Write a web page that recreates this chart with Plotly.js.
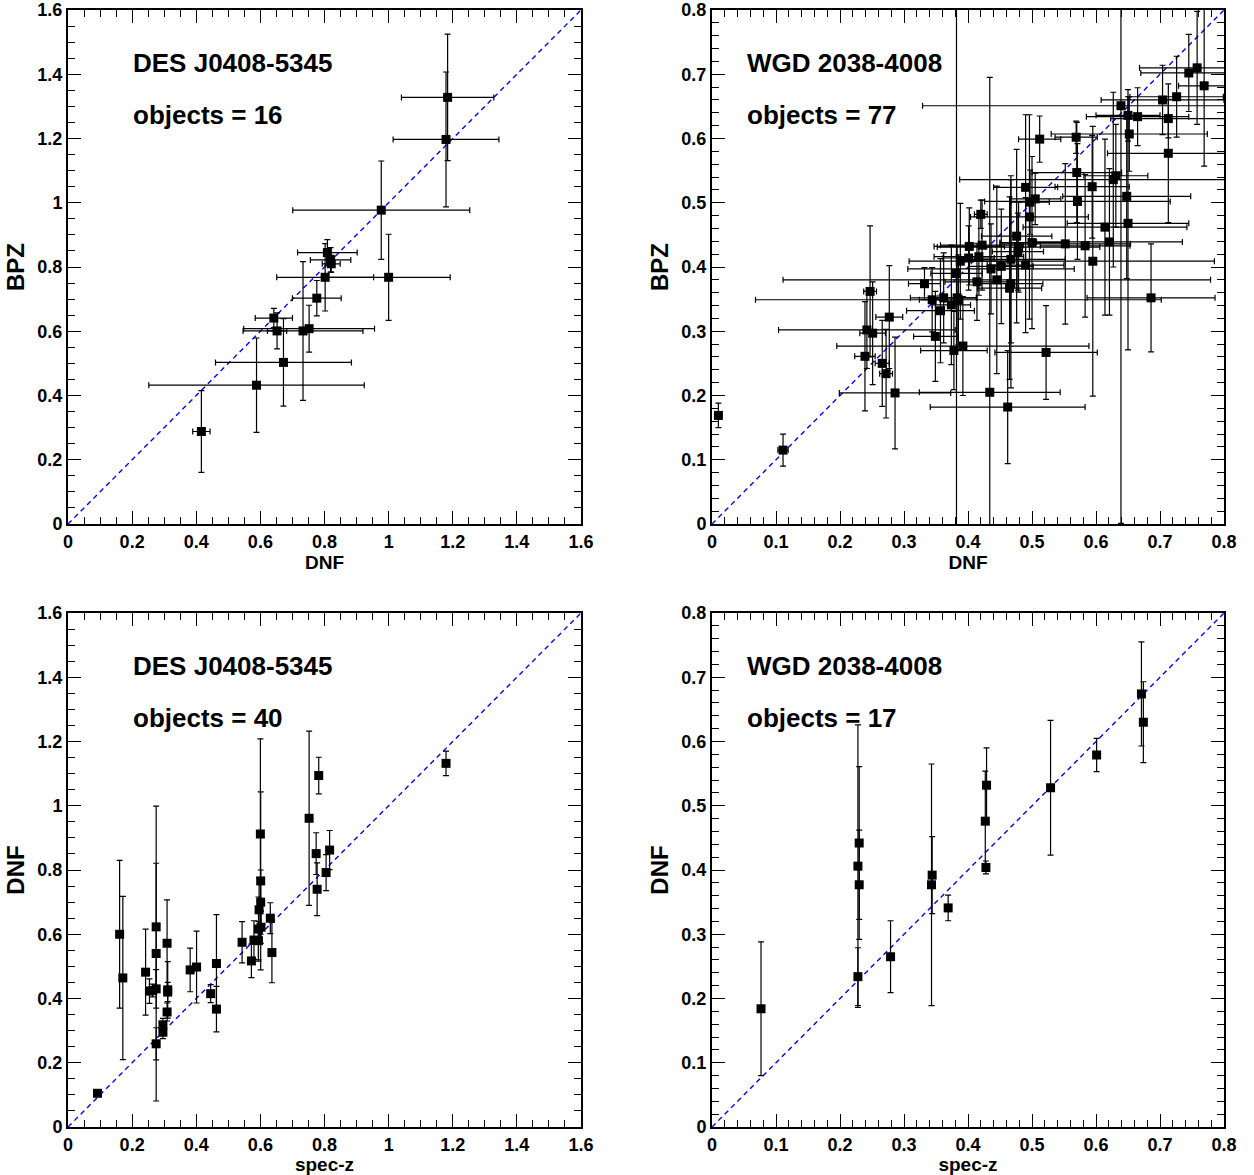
<!DOCTYPE html>
<html>
<head>
<meta charset="utf-8">
<script src="https://cdn.plot.ly/plotly-3.0.1.min.js"></script>
<style>html,body{margin:0;padding:0;background:#fff;}#plot{width:1254px;height:1175px;}</style>
</head>
<body>
<div id="plot"></div>
<script>
// ---------- Panel 1: DES J0408-5345, BPZ vs DNF ----------
const p1_x    = [1.184,1.179,0.977,1.000,0.809,0.819,0.821,0.802,0.776,0.642,0.652,0.733,0.752,0.672,0.588,0.416];
const p1_y    = [1.328,1.197,0.977,0.768,0.845,0.822,0.810,0.768,0.703,0.641,0.601,0.601,0.608,0.503,0.432,0.288];
const p1_xerr = [0.144,0.165,0.276,0.192,0.093,0.063,0.028,0.151,0.076,0.058,0.030,0.187,0.204,0.212,0.336,0.027];
const p1_yerr = [0.197,0.210,0.153,0.134,0.040,0.038,0.026,0.105,0.055,0.030,0.056,0.216,0.073,0.136,0.147,0.127];

// ---------- Panel 2: WGD 2038-4008, BPZ vs DNF ----------
const p2_x = [0.758,0.745,0.769,0.704,0.726,0.639,0.650,0.665,0.713,0.652,0.512,0.569,0.713,0.570,0.631,0.627,0.594,0.490,0.648,0.571,
              0.505,0.497,0.496,0.650,0.614,0.420,0.476,0.500,0.479,0.478,0.552,0.583,0.621,0.402,0.422,0.401,0.417,0.388,0.467,0.595,
              0.490,0.452,0.436,0.382,0.332,0.445,0.414,0.247,0.467,0.465,0.344,0.362,0.383,0.686,0.385,0.374,0.357,0.277,0.242,0.251,
              0.349,0.378,0.392,0.522,0.239,0.266,0.272,0.286,0.434,0.462,0.010,0.111];
const p2_y = [0.710,0.702,0.682,0.660,0.665,0.651,0.636,0.634,0.631,0.607,0.599,0.602,0.577,0.547,0.542,0.536,0.525,0.524,0.510,0.502,
              0.506,0.501,0.478,0.468,0.462,0.482,0.448,0.438,0.431,0.424,0.436,0.433,0.439,0.432,0.434,0.414,0.416,0.409,0.412,0.409,
              0.403,0.401,0.397,0.390,0.374,0.380,0.377,0.362,0.374,0.367,0.349,0.352,0.352,0.352,0.349,0.341,0.332,0.322,0.302,0.297,
              0.292,0.270,0.277,0.267,0.261,0.250,0.234,0.204,0.205,0.182,0.169,0.115];
const p2_xerr = [0.090,0.075,0.040,0.096,0.073,0.310,0.050,0.080,0.090,0.122,0.033,0.033,0.095,0.070,0.050,0.240,0.058,0.050,0.100,0.145,
                 0.040,0.030,0.092,0.095,0.128,0.010,0.055,0.050,0.127,0.040,0.102,0.070,0.114,0.055,0.065,0.040,0.070,0.080,0.085,0.190,
                 0.060,0.050,0.130,0.040,0.025,0.334,0.050,0.010,0.050,0.050,0.020,0.052,0.030,0.100,0.317,0.030,0.053,0.021,0.138,0.020,
                 0.034,0.052,0.197,0.080,0.016,0.011,0.010,0.087,0.110,0.121,0.005,0.008];
const p2_yerr = [0.088,0.060,0.125,0.054,0.063,0.650,0.040,0.045,0.030,0.058,0.036,0.025,0.108,0.078,0.080,0.136,0.080,0.113,0.128,0.090,
                 0.040,0.050,0.159,0.197,0.137,0.022,0.135,0.134,0.070,0.060,0.125,0.111,0.114,0.060,0.070,0.050,0.060,0.090,0.130,0.210,
                 0.105,0.089,0.070,0.500,0.025,0.146,0.060,0.102,0.162,0.142,0.050,0.070,0.080,0.084,0.070,0.093,0.081,0.080,0.060,0.080,
                 0.070,0.061,0.077,0.073,0.085,0.067,0.069,0.087,0.490,0.088,0.019,0.025];

// ---------- Panel 3: DES J0408-5345, DNF vs spec-z ----------
const p3_x = [0.092,0.161,0.171,0.242,0.254,0.264,0.275,0.275,0.275,0.275,0.296,0.296,0.309,0.311,0.311,0.309,0.381,0.401,0.445,0.463,
              0.463,0.543,0.572,0.580,0.594,0.596,0.600,0.601,0.601,0.602,0.594,0.631,0.636,0.752,0.782,0.774,0.777,0.805,0.816,1.179];
const p3_y = [0.105,0.600,0.464,0.482,0.423,0.425,0.623,0.540,0.430,0.259,0.318,0.295,0.572,0.427,0.420,0.358,0.489,0.498,0.415,0.509,
              0.367,0.575,0.517,0.582,0.580,0.676,0.912,0.766,0.700,0.622,0.616,0.650,0.543,0.961,1.094,0.851,0.740,0.792,0.862,1.132];
const p3_yerr = [0.010,0.230,0.254,0.134,0.038,0.020,0.198,0.459,0.060,0.050,0.020,0.020,0.135,0.088,0.030,0.028,0.068,0.112,0.028,0.152,
                 0.071,0.064,0.052,0.060,0.060,0.100,0.296,0.277,0.100,0.050,0.100,0.048,0.094,0.271,0.057,0.065,0.082,0.056,0.061,0.038];

// ---------- Panel 4: WGD 2038-4008, DNF vs spec-z ----------
const p4_x = [0.0766,0.228,0.228,0.230,0.230,0.279,0.343,0.344,0.369,0.427,0.429,0.428,0.529,0.601,0.671,0.674];
const p4_y = [0.184,0.234,0.406,0.442,0.377,0.265,0.377,0.392,0.341,0.476,0.532,0.404,0.528,0.579,0.674,0.630];
const p4_yerr = [0.104,0.045,0.220,0.119,0.085,0.056,0.188,0.060,0.020,0.078,0.058,0.010,0.105,0.026,0.081,0.063];

// ---------- Labels ----------
const panelNames = ["DES J0408-5345","WGD 2038-4008","DES J0408-5345","WGD 2038-4008"];
const panelCounts = ["objects = 16","objects = 77","objects = 40","objects = 17"];
const xTitles = ["DNF","DNF","spec-z","spec-z"];
const yTitles = ["BPZ","BPZ","DNF","DNF"];
const axisMax = [1.6, 0.8, 1.6, 0.8];

const FONT = "Liberation Sans, Arial, Helvetica, sans-serif";

function pts(xs, ys, xe, ye, xa, ya) {
  const t = {
    x: xs, y: ys, xaxis: xa, yaxis: ya, type: 'scatter', mode: 'markers',
    marker: {symbol: 'square', size: 9, color: 'black'},
    error_y: {type: 'data', array: ye, visible: true, color: 'black', thickness: 1.2, width: 3},
    showlegend: false, hoverinfo: 'x+y'
  };
  if (xe) t.error_x = {type: 'data', array: xe, visible: true, color: 'black', thickness: 1.2, width: 3};
  return t;
}
function diag(m, xa, ya) {
  return {x: [0, m], y: [0, m], xaxis: xa, yaxis: ya, type: 'scatter', mode: 'lines',
          line: {color: '#0000ff', width: 1.4, dash: '5px,4px'}, showlegend: false, hoverinfo: 'skip'};
}

const traces = [
  diag(axisMax[0], 'x', 'y'),   pts(p1_x, p1_y, p1_xerr, p1_yerr, 'x', 'y'),
  diag(axisMax[1], 'x2', 'y2'), pts(p2_x, p2_y, p2_xerr, p2_yerr, 'x2', 'y2'),
  diag(axisMax[2], 'x3', 'y3'), pts(p3_x, p3_y, null, p3_yerr, 'x3', 'y3'),
  diag(axisMax[3], 'x4', 'y4'), pts(p4_x, p4_y, null, p4_yerr, 'x4', 'y4')
];

const W = 1254, H = 1175;
const colPx = [[68, 581], [712, 1224]];
const rowPx = [[10, 524], [613, 1127]];

function axis(i, isX, dom) {
  const m = axisMax[i];
  const big = m > 1;
  return {
    domain: dom, range: [0, m], autorange: false, fixedrange: true,
    tick0: 0, dtick: big ? 0.2 : 0.1,
    ticks: 'inside', ticklen: 13, tickwidth: 1, tickcolor: 'black',
    minor: {dtick: big ? 0.05 : 0.02, ticks: 'inside', ticklen: 7, tickwidth: 1, tickcolor: 'black', showgrid: false},
    showline: true, linecolor: 'black', linewidth: 2, mirror: 'allticks',
    showgrid: false, zeroline: false,
    ticklabeloverflow: 'allow',
    tickfont: {family: FONT, size: 18, weight: 700, color: 'black'},
    title: {text: isX ? xTitles[i] : yTitles[i],
            font: {family: FONT, size: isX ? 19 : 24, weight: 700, color: 'black'},
            standoff: isX ? 1 : 6},
    anchor: isX ? ('y' + (i ? i + 1 : '')) : ('x' + (i ? i + 1 : ''))
  };
}

const layout = {
  width: W, height: H, margin: {l: 0, r: 0, t: 0, b: 0},
  paper_bgcolor: 'white', plot_bgcolor: 'white',
  annotations: []
};

for (let i = 0; i < 4; i++) {
  const c = colPx[i % 2], r = rowPx[Math.floor(i / 2)];
  const xd = [c[0] / W, c[1] / W];
  const yd = [1 - r[1] / H, 1 - r[0] / H];
  const sfx = i ? String(i + 1) : '';
  layout['xaxis' + sfx] = axis(i, true, xd);
  layout['yaxis' + sfx] = axis(i, false, yd);
  const left = (i % 2 ? 745 : 131) / W;
  layout.annotations.push({xref: 'paper', yref: 'paper', x: left, y: 1 - (r[0] + 53) / H,
    xanchor: 'left', yanchor: 'middle', showarrow: false, text: panelNames[i],
    font: {family: FONT, size: 26, weight: 700, color: 'black'}});
  layout.annotations.push({xref: 'paper', yref: 'paper', x: left, y: 1 - (r[0] + 105) / H,
    xanchor: 'left', yanchor: 'middle', showarrow: false, text: panelCounts[i],
    font: {family: FONT, size: 26, weight: 700, color: 'black'}});
}

Plotly.newPlot('plot', traces, layout, {staticPlot: true});
</script>
</body>
</html>
